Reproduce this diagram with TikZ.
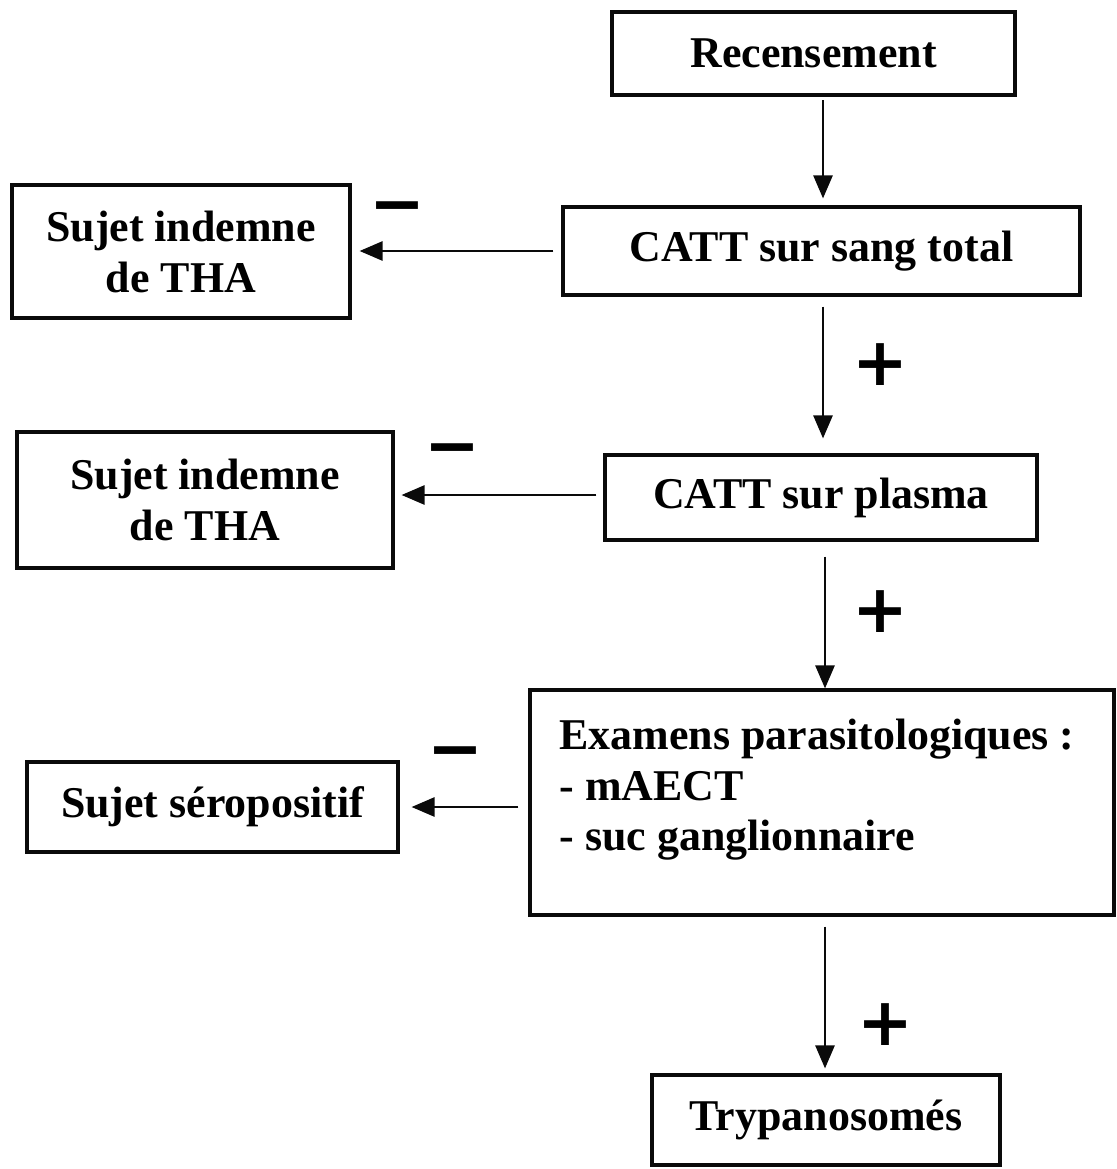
\documentclass[tikz,border=0pt]{standalone}
\usepackage{fontspec}
\setmainfont{Liberation Serif}
\newfontfamily\signfont{DejaVu Sans}
\usepackage{tikz}
\usetikzlibrary{arrows.meta, positioning, calc}
\definecolor{mydark}{RGB}{10,10,10}
\tikzset{
  box/.style={rectangle, draw=mydark, fill=white, align=center,
    font=\fontsize{25}{29}\selectfont\bfseries, line width=1.8pt, inner sep=0pt},
  arrow/.style={-{Triangle[length=0.46cm, width=0.38cm]}, line width=1.5pt, color=mydark},
  sign/.style={font=\signfont\fontsize{38}{38}\selectfont\bfseries, inner sep=0pt}
}

\begin{document}
\begin{tikzpicture}[x=0.02cm, y=-0.02cm]
  \useasboundingbox (0,0) rectangle (1116,1169);

  \node[box, minimum width=8.06cm, minimum height=1.66cm] (rec) at (813.5,53.5) {Recensement};
  \node[box, minimum width=10.34cm, minimum height=1.76cm] (sang) at (821.5,251) {CATT sur sang total};
  \node[box, minimum width=6.76cm, minimum height=2.66cm] (ind1) at (181,251.5) {Sujet indemne\\de THA};
  \node[box, minimum width=8.64cm, minimum height=1.70cm] (plasma) at (821,497.5) {CATT sur plasma};
  \node[box, minimum width=7.52cm, minimum height=2.72cm] (ind2) at (205,500) {Sujet indemne\\de THA};
  \node[box, minimum width=11.68cm, minimum height=4.50cm] (exam) at (822,802.5) {};
  \node[box, draw=none, fill=none, align=left, anchor=north west] (examtxt) at (558,717)
    {Examens parasitologiques :\\- mAECT\\- suc ganglionnaire};
  \node[box, minimum width=7.42cm, minimum height=1.80cm] (sero) at (212.5,807) {Sujet séropositif};
  \node[box, minimum width=6.96cm, minimum height=1.80cm] (tryp) at (826,1120) {Trypanosomés};

  % Paths
  \draw[arrow, shorten <=2pt, shorten >=0.14cm] (rec.south -| 823,0) -- (sang.north -| 823,0);
  \draw[arrow, shorten <=0.2cm, shorten >=0.3cm] (sang.south -| 823,0) -- (plasma.north -| 823,0);
  \draw[arrow, shorten <=0.3cm, shorten >=0pt] (plasma.south -| 825,0) -- (exam.north -| 825,0);
  \draw[arrow, shorten <=0.2cm, shorten >=0.1cm] (exam.south -| 825,0) -- (tryp.north -| 825,0);
  \draw[arrow, shorten <=0.16cm, shorten >=0.16cm] (sang.west) -- (sang.west -| ind1.east);
  \draw[arrow, shorten <=0.14cm, shorten >=0.14cm] (plasma.west |- 0,495) -- (ind2.east |- 0,495);
  \draw[arrow, shorten <=0.2cm, shorten >=0.24cm] (exam.west |- sero) -- (sero.east);

  % Signs
  \node[sign] (m1) at (397,214) {−};
  \node[sign] (m2) at (452,456) {−};
  \node[sign] (m3) at (455,759) {−};
  \node[sign] (p1) at (880,365) {+};
  \node[sign] (p2) at (880,612) {+};
  \node[sign] (p3) at (885,1025) {+};
\end{tikzpicture}
\end{document}
